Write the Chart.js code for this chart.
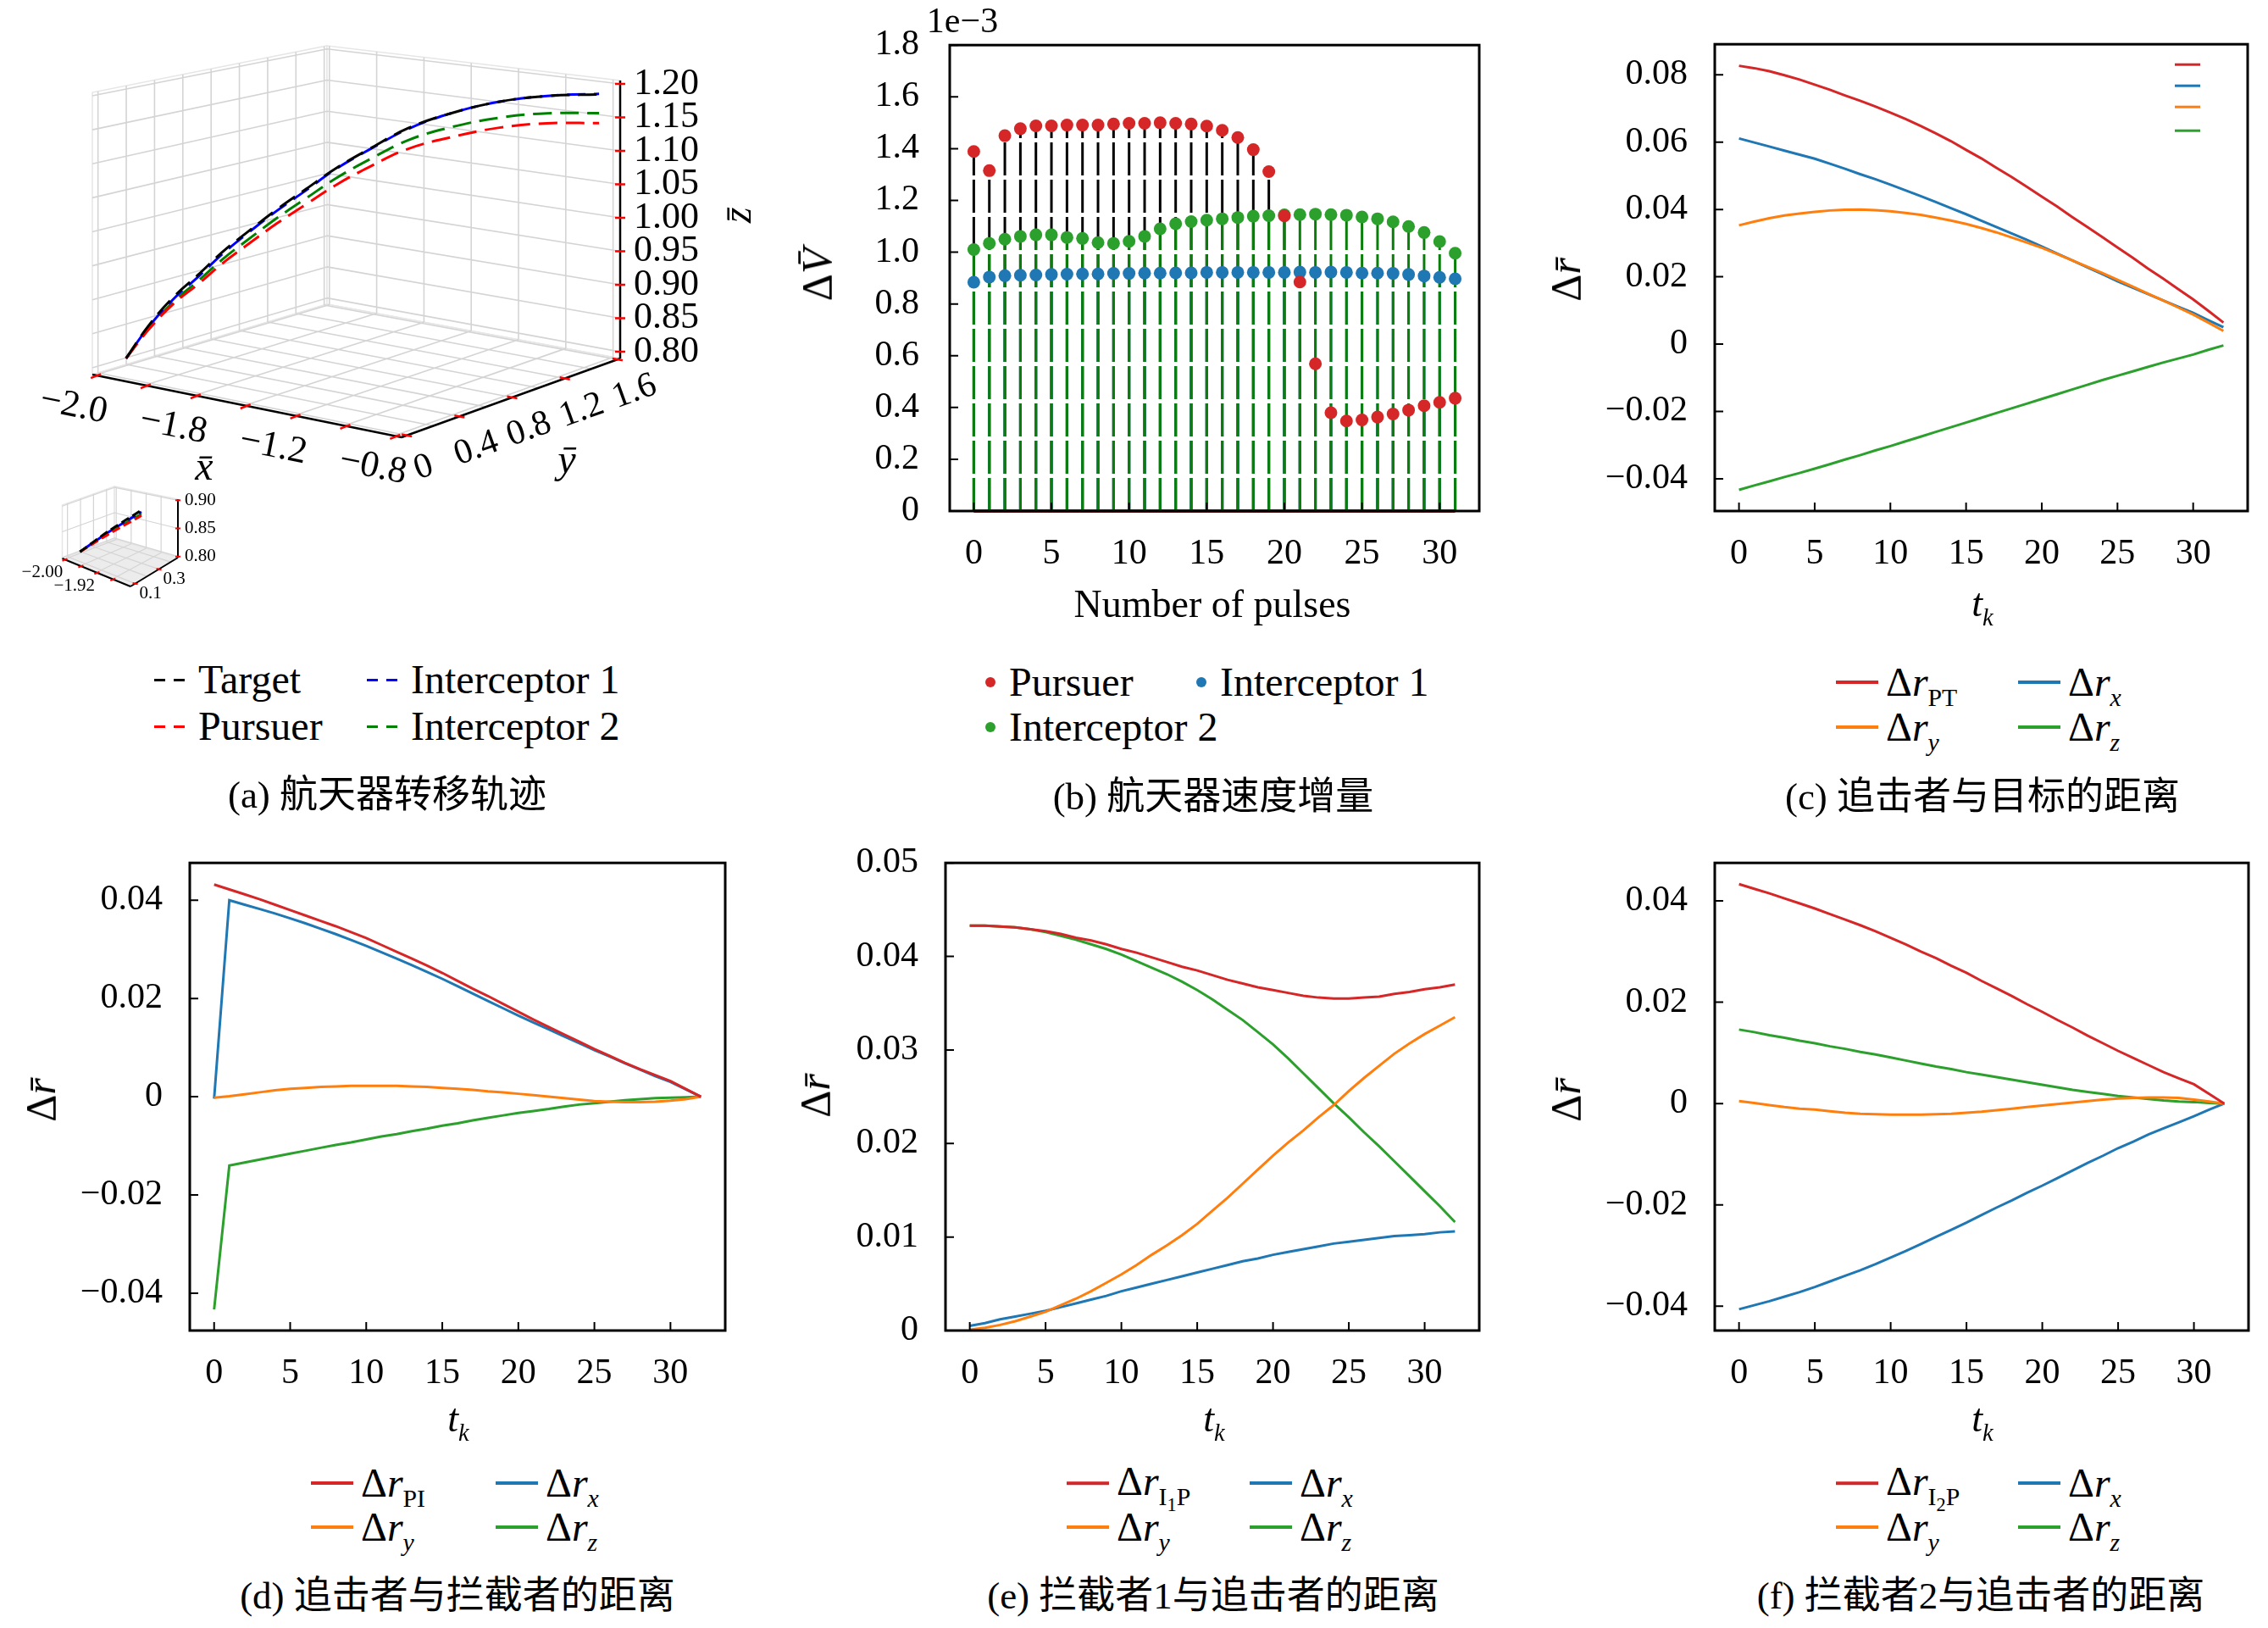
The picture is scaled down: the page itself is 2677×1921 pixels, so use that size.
<!DOCTYPE html>
<html>
<head>
<meta charset="utf-8">
<title>Pursuit-evasion simulation results</title>
<script src="https://cdn.jsdelivr.net/npm/chart.js@4.4.1/dist/chart.umd.min.js"></script>
<style>
  html, body { margin: 0; padding: 0; background: #fff; }
  body { width: 2677px; height: 1921px; position: relative; overflow: hidden;
         font-family: "Liberation Serif", "Noto Sans CJK SC", serif; color: #000; }
  canvas { position: absolute; }
  .t { position: absolute; white-space: nowrap; line-height: 1; transform: translate(-50%, -50%); }
  .lg { position: absolute; white-space: nowrap; line-height: 1; font-size: 48px;
        transform: translateY(-50%); display: flex; align-items: center; }
  sub { font-size: 0.62em; vertical-align: -0.4em; line-height: 0; }
  sub sub { font-size: 0.75em; vertical-align: -0.3em; }
</style>
</head>
<body>
<script>
// ---------- data ----------
// (a) trajectories, sampled along the transfer arc
const trajX = [-2.000, -1.947, -1.887, -1.828, -1.770, -1.711, -1.639, -1.569, -1.498, -1.415, -1.320, -1.214, -1.096, -0.978, -0.848];
const trajY = [0.181, 0.246, 0.320, 0.392, 0.465, 0.537, 0.625, 0.712, 0.800, 0.902, 1.018, 1.149, 1.295, 1.440, 1.600];
const zTarget = [0.801, 0.849, 0.892, 0.925, 0.959, 0.988, 1.022, 1.052, 1.082, 1.111, 1.141, 1.162, 1.177, 1.183, 1.182];
const zPursuer = [0.801, 0.843, 0.882, 0.911, 0.942, 0.969, 1.001, 1.029, 1.057, 1.084, 1.110, 1.126, 1.138, 1.142, 1.139];
const zInt1 = [0.801, 0.847, 0.889, 0.922, 0.956, 0.986, 1.020, 1.050, 1.081, 1.110, 1.140, 1.162, 1.177, 1.183, 1.183];
const zInt2 = [0.801, 0.845, 0.885, 0.916, 0.948, 0.976, 1.009, 1.038, 1.067, 1.095, 1.123, 1.141, 1.153, 1.157, 1.154];
const insetPoints = 3;

const xGrid3d = [-2.0, -1.8, -1.6, -1.4, -1.2, -1.0, -0.8];
const xTick3d = [-2.0, -1.6, -1.2, -0.8];
const xTickLabels3d = ['\u22122.0', '\u22121.8', '\u22121.2', '\u22120.8'];
const yGrid3d = [0, 0.2, 0.4, 0.6, 0.8, 1.0, 1.2, 1.4, 1.6];
const yTick3d = [0, 0.4, 0.8, 1.2, 1.6];
const yTickLabels3d = ['0', '0.4', '0.8', '1.2', '1.6'];
const zTick3d = [0.80, 0.85, 0.90, 0.95, 1.00, 1.05, 1.10, 1.15, 1.20];

const xGridInset = [-2.00, -1.96, -1.92, -1.88];
const xTickInset = [-2.00, -1.92];
const yGridInset = [0.1, 0.2, 0.3, 0.4];
const yTickInset = [0.1, 0.3];
const zTickInset = [0.80, 0.85, 0.90];

// (b) velocity increments, units of 1e-3
const pulses = [0,1,2,3,4,5,6,7,8,9,10,11,12,13,14,15,16,17,18,19,20,21,22,23,24,25,26,27,28,29,30,31];
const dvPursuer = [1.389, 1.315, 1.450, 1.477, 1.488, 1.488, 1.491, 1.491, 1.491, 1.495, 1.498, 1.498, 1.500, 1.498, 1.495, 1.487,
                   1.471, 1.443, 1.396, 1.311, 1.140, 0.885, 0.569, 0.380, 0.348, 0.352, 0.363, 0.375, 0.390, 0.407, 0.420, 0.436];
const dvInt1 = [0.884, 0.904, 0.909, 0.911, 0.912, 0.914, 0.915, 0.916, 0.916, 0.918, 0.918, 0.919, 0.919, 0.920, 0.920, 0.922,
                0.922, 0.922, 0.922, 0.922, 0.922, 0.923, 0.922, 0.923, 0.922, 0.919, 0.919, 0.918, 0.914, 0.908, 0.903, 0.897];
const dvInt2 = [1.010, 1.034, 1.050, 1.061, 1.067, 1.067, 1.057, 1.053, 1.037, 1.034, 1.042, 1.061, 1.090, 1.110, 1.118, 1.124,
                1.129, 1.134, 1.139, 1.141, 1.144, 1.145, 1.147, 1.145, 1.143, 1.136, 1.129, 1.117, 1.099, 1.076, 1.041, 0.996];
const dvTicks = [0, 0.2, 0.4, 0.6, 0.8, 1.0, 1.2, 1.4, 1.6, 1.8];

// (c)-(f) relative distances over t_k = 0..32
const tk = [0,1,2,3,4,5,6,7,8,9,10,11,12,13,14,15,16,17,18,19,20,21,22,23,24,25,26,27,28,29,30,31,32];
const tkTicks = [0, 5, 10, 15, 20, 25, 30];

const cNorm = [0.0827, 0.0820, 0.0811, 0.0799, 0.0786, 0.0771, 0.0756, 0.0739, 0.0723, 0.0706, 0.0688, 0.0669, 0.0648, 0.0626, 0.0603, 0.0577, 0.0552,
               0.0524, 0.0497, 0.0468, 0.0438, 0.0409, 0.0378, 0.0348, 0.0318, 0.0287, 0.0257, 0.0225, 0.0195, 0.0164, 0.0133, 0.0099, 0.0064];
const cX = [0.0611, 0.0599, 0.0587, 0.0575, 0.0563, 0.0551, 0.0536, 0.0521, 0.0505, 0.0490, 0.0474, 0.0457, 0.0440, 0.0422, 0.0404, 0.0386, 0.0367,
            0.0348, 0.0329, 0.0310, 0.0290, 0.0269, 0.0249, 0.0228, 0.0208, 0.0187, 0.0168, 0.0149, 0.0130, 0.0111, 0.0093, 0.0071, 0.0050];
const cY = [0.0353, 0.0364, 0.0374, 0.0382, 0.0388, 0.0393, 0.0397, 0.0399, 0.0400, 0.0398, 0.0395, 0.0390, 0.0384, 0.0376, 0.0367, 0.0357, 0.0345,
            0.0332, 0.0317, 0.0302, 0.0286, 0.0268, 0.0249, 0.0230, 0.0211, 0.0191, 0.0171, 0.0150, 0.0130, 0.0109, 0.0088, 0.0064, 0.0039];
const cZ = [-0.0433, -0.0420, -0.0408, -0.0395, -0.0383, -0.0370, -0.0357, -0.0343, -0.0330, -0.0316, -0.0303, -0.0289, -0.0275, -0.0261, -0.0247, -0.0233, -0.0219,
            -0.0205, -0.0191, -0.0177, -0.0163, -0.0149, -0.0135, -0.0121, -0.0107, -0.0094, -0.0081, -0.0068, -0.0055, -0.0043, -0.0031, -0.0017, -0.0004];
const cTicks = [-0.04, -0.02, 0, 0.02, 0.04, 0.06, 0.08];

const dNorm = [0.0432, 0.0422, 0.0412, 0.0402, 0.0391, 0.0380, 0.0369, 0.0358, 0.0347, 0.0335, 0.0323, 0.0309, 0.0295, 0.0281, 0.0267, 0.0252, 0.0236,
               0.0220, 0.0205, 0.0189, 0.0173, 0.0157, 0.0142, 0.0127, 0.0112, 0.0097, 0.0083, 0.0069, 0.0056, 0.0044, 0.0032, 0.0016, 0.0000];
const dX = [-0.0004, 0.0400, 0.0391, 0.0382, 0.0373, 0.0363, 0.0353, 0.0342, 0.0331, 0.0319, 0.0307, 0.0294, 0.0281, 0.0268, 0.0254, 0.0240, 0.0225,
            0.0210, 0.0195, 0.0180, 0.0165, 0.0151, 0.0137, 0.0123, 0.0109, 0.0095, 0.0082, 0.0068, 0.0055, 0.0042, 0.0030, 0.0015, 0.0000];
const dY = [-0.0002, 0.0001, 0.0005, 0.0009, 0.0013, 0.0016, 0.0018, 0.0020, 0.0021, 0.0022, 0.0022, 0.0022, 0.0022, 0.0021, 0.0020, 0.0018, 0.0016,
            0.0014, 0.0011, 0.0009, 0.0006, 0.0003, 0.0000, -0.0003, -0.0006, -0.0009, -0.0010, -0.0011, -0.0011, -0.0010, -0.0008, -0.0005, 0.0000];
const dZ = [-0.0433, -0.0140, -0.0134, -0.0128, -0.0122, -0.0116, -0.0110, -0.0104, -0.0098, -0.0093, -0.0087, -0.0081, -0.0076, -0.0070, -0.0065, -0.0059, -0.0054,
            -0.0048, -0.0043, -0.0038, -0.0033, -0.0029, -0.0025, -0.0020, -0.0016, -0.0013, -0.0010, -0.0007, -0.0005, -0.0003, -0.0002, -0.0001, 0.0000];
const dTicks = [-0.04, -0.02, 0, 0.02, 0.04];

const eNorm = [0.0433, 0.0433, 0.0432, 0.0431, 0.0429, 0.0427, 0.0424, 0.0420, 0.0417, 0.0413, 0.0408, 0.0404, 0.0399, 0.0394, 0.0389, 0.0385, 0.0380,
               0.0375, 0.0371, 0.0367, 0.0364, 0.0361, 0.0358, 0.0356, 0.0355, 0.0355, 0.0356, 0.0357, 0.0360, 0.0362, 0.0365, 0.0367, 0.0370];
const eX = [0.0005, 0.0008, 0.0012, 0.0015, 0.0018, 0.0021, 0.0025, 0.0029, 0.0033, 0.0037, 0.0042, 0.0046, 0.0050, 0.0054, 0.0058, 0.0062, 0.0066,
            0.0070, 0.0074, 0.0077, 0.0081, 0.0084, 0.0087, 0.0090, 0.0093, 0.0095, 0.0097, 0.0099, 0.0101, 0.0102, 0.0103, 0.0105, 0.0106];
const eY = [0.0001, 0.0003, 0.0006, 0.0010, 0.0015, 0.0020, 0.0027, 0.0034, 0.0042, 0.0051, 0.0060, 0.0070, 0.0081, 0.0091, 0.0102, 0.0114, 0.0128,
            0.0142, 0.0157, 0.0172, 0.0187, 0.0201, 0.0214, 0.0228, 0.0241, 0.0256, 0.0270, 0.0283, 0.0296, 0.0307, 0.0317, 0.0326, 0.0335];
const eZ = [0.0433, 0.0433, 0.0432, 0.0431, 0.0429, 0.0426, 0.0422, 0.0418, 0.0413, 0.0408, 0.0402, 0.0395, 0.0388, 0.0381, 0.0373, 0.0364, 0.0354,
            0.0343, 0.0332, 0.0319, 0.0306, 0.0291, 0.0275, 0.0259, 0.0243, 0.0228, 0.0212, 0.0197, 0.0181, 0.0165, 0.0149, 0.0133, 0.0116];
const eTicks = [0, 0.01, 0.02, 0.03, 0.04, 0.05];

const fNorm = [0.0433, 0.0424, 0.0415, 0.0405, 0.0395, 0.0385, 0.0374, 0.0363, 0.0352, 0.0340, 0.0327, 0.0314, 0.0300, 0.0287, 0.0272, 0.0258, 0.0242,
               0.0227, 0.0212, 0.0196, 0.0181, 0.0165, 0.0150, 0.0134, 0.0119, 0.0104, 0.0090, 0.0076, 0.0062, 0.0050, 0.0038, 0.0019, 0.0000];
const fX = [-0.0406, -0.0398, -0.0390, -0.0381, -0.0372, -0.0362, -0.0351, -0.0340, -0.0329, -0.0317, -0.0304, -0.0291, -0.0277, -0.0263, -0.0249, -0.0235, -0.0220,
            -0.0205, -0.0191, -0.0176, -0.0162, -0.0147, -0.0132, -0.0117, -0.0103, -0.0088, -0.0075, -0.0061, -0.0049, -0.0037, -0.0025, -0.0012, 0.0000];
const fY = [0.0005, 0.0001, -0.0003, -0.0007, -0.0010, -0.0012, -0.0015, -0.0018, -0.0020, -0.0021, -0.0022, -0.0022, -0.0022, -0.0021, -0.0020, -0.0018, -0.0016,
            -0.0013, -0.0010, -0.0007, -0.0004, -0.0001, 0.0002, 0.0005, 0.0008, 0.0010, 0.0011, 0.0012, 0.0012, 0.0011, 0.0008, 0.0004, 0.0000];
const fZ = [0.0146, 0.0141, 0.0135, 0.0130, 0.0124, 0.0119, 0.0113, 0.0108, 0.0102, 0.0097, 0.0091, 0.0085, 0.0079, 0.0073, 0.0068, 0.0062, 0.0057,
            0.0052, 0.0047, 0.0042, 0.0037, 0.0032, 0.0027, 0.0023, 0.0019, 0.0015, 0.0012, 0.0009, 0.0006, 0.0004, 0.0003, 0.0001, 0.0000];
const fTicks = [-0.04, -0.02, 0, 0.02, 0.04];

// ---------- style ----------
const FONT = '"Liberation Serif", "Noto Sans CJK SC", serif';
const RED = '#d62728', BLUE = '#1f77b4', ORANGE = '#ff7f0e', GREEN = '#2ca02c';
Chart.defaults.font.family = FONT;
Chart.defaults.color = '#000';

function place(id, left, top, w, h) {
  const c = document.createElement('canvas');
  c.id = id; c.width = w; c.height = h;
  c.style.left = left + 'px'; c.style.top = top + 'px';
  c.style.width = w + 'px'; c.style.height = h + 'px';
  document.body.appendChild(c);
  return c;
}
// create a chart, then re-create it so that its chartArea lands exactly on `area` (page pixels)
function pinned(id, area, guess, makeConfig) {
  const geom = g => [area.l - g.lo, area.t - g.to, g.lo + area.r - area.l + g.ro, g.to + area.b - area.t + g.bo];
  let cv = place(id, ...geom(guess));
  let ch = new Chart(cv, makeConfig());
  const a = ch.chartArea;
  const got = { lo: a.left, to: a.top, ro: cv.width - a.right, bo: cv.height - a.bottom };
  const err = Math.abs(got.lo - guess.lo) + Math.abs(got.to - guess.to) + Math.abs(got.ro - guess.ro) + Math.abs(got.bo - guess.bo);
  if (err < 1) return ch;
  ch.destroy(); cv.remove();
  cv = place(id, ...geom(got));
  return new Chart(cv, makeConfig());
}
function text(html, x, y, size, rot) {
  const d = document.createElement('div');
  d.className = 't';
  d.style.left = x + 'px'; d.style.top = y + 'px'; d.style.fontSize = size + 'px';
  if (rot) d.style.transform = 'translate(-50%,-50%) rotate(' + rot + 'deg)';
  d.innerHTML = html;
  document.body.appendChild(d);
}
const swatch = {
  dash: c => `<span style="display:inline-block;width:36px;height:3px;margin-right:16px;background:repeating-linear-gradient(90deg,${c} 0 13px,transparent 13px 23px)"></span>`,
  dot: c => `<span style="display:inline-block;width:12px;height:12px;border-radius:50%;margin-right:16px;background:${c}"></span>`,
  line: c => `<span style="display:inline-block;width:50px;height:4px;margin-right:9px;background:${c}"></span>`
};
function legend(x, y, kind, color, html) {
  const d = document.createElement('div');
  d.className = 'lg';
  d.style.left = x + 'px'; d.style.top = y + 'px';
  d.innerHTML = swatch[kind](color) + '<span>' + html + '</span>';
  document.body.appendChild(d);
}

const fmtInt = v => String(v);
const fmtDec = n => v => (v === 0 ? '0' : v.toFixed(n).replace('-', '\u2212'));

// frame + inward ticks, matplotlib style
const framePlugin = {
  id: 'frame',
  afterDatasetsDraw(chart) {
    const { ctx, chartArea: a, scales: { x, y } } = chart;
    ctx.save();
    ctx.strokeStyle = '#000';
    ctx.lineWidth = 2;
    ctx.beginPath();
    x.ticks.forEach(t => { const p = x.getPixelForValue(t.value); ctx.moveTo(p, a.bottom); ctx.lineTo(p, a.bottom - 10); });
    y.ticks.forEach(t => { const p = y.getPixelForValue(t.value); ctx.moveTo(a.left, p); ctx.lineTo(a.left + 10, p); });
    ctx.stroke();
    ctx.lineWidth = 3;
    ctx.strokeRect(a.left, a.top, a.right - a.left, a.bottom - a.top);
    ctx.restore();
  }
};

function axis(min, max, tickVals, fmt, fit, pad) {
  return {
    type: 'linear', min, max,
    grid: { display: false, drawTicks: false },
    border: { display: false },
    afterBuildTicks: s => { s.ticks = tickVals.map(v => ({ value: v })); },
    afterFit: fit,
    ticks: { color: '#000', font: { family: FONT, size: 42 }, padding: pad, autoSkip: false, maxRotation: 0, callback: fmt }
  };
}
const baseOptions = (padTop, padR, xAxis, yAxis) => ({
  responsive: false, maintainAspectRatio: false, animation: false, devicePixelRatio: 1,
  layout: { padding: { top: padTop, right: padR, left: 0, bottom: 0 } },
  plugins: { legend: { display: false }, tooltip: { enabled: false } },
  scales: { x: xAxis, y: yAxis }
});

function lineChart(id, area, series, yMin, yMax, yTicks, extra) {
  const yW = 200, padTop = 40, padR = 20, xH = 110;
  return pinned(id, area, { lo: yW, to: padTop, ro: padR, bo: xH }, () => ({
    type: 'line',
    data: {
      datasets: series.map(s => ({
        label: s.name, data: tk.map((t, i) => ({ x: t, y: s.values[i] })),
        borderColor: s.color, borderWidth: 3, pointRadius: 0, tension: 0, fill: false, order: s.order
      }))
    },
    options: baseOptions(padTop, padR,
      axis(-1.6, 33.6, tkTicks, fmtInt, s => { s.height = xH; }, 26),
      axis(yMin, yMax, yTicks, fmtDec(2), s => { s.width = yW; }, 32)),
    plugins: [framePlugin].concat(extra || [])
  }));
}

// ---------- (a) 3D trajectories ----------
const vehicles = [
  { name: 'Target', z: zTarget, color: '#000000', dashOffset: 0 },
  { name: 'Pursuer', z: zPursuer, color: '#ff0000', dashOffset: 0 },
  { name: 'Interceptor 1', z: zInt1, color: '#0000ff', dashOffset: 14 },
  { name: 'Interceptor 2', z: zInt2, color: '#008000', dashOffset: 0 }
];
// floor corners (x0y0, x1y0, x1y1, x0y1) and vertical edge heights, in page pixels
const mainBox = { A: [109, 442], B: [474, 516], C: [732, 423], D: [386, 359], up: [333, 345, 328, 305],
                  xr: [-2.01, -0.77], yr: [-0.04, 1.62], zr: [0.79, 1.205] };
const insetBox = { A: [73.5, 659], B: [154, 692], C: [210, 658], D: [135, 636], up: [63, 66, 69, 62],
                   xr: [-2.005, -1.835], yr: [0.06, 0.46], zr: [0.798, 0.902] };

function project(b, x, y, z) {
  const u = (x - b.xr[0]) / (b.xr[1] - b.xr[0]);
  const v = (y - b.yr[0]) / (b.yr[1] - b.yr[0]);
  const w = (z - b.zr[0]) / (b.zr[1] - b.zr[0]);
  const k = [(1 - u) * (1 - v), u * (1 - v), u * v, (1 - u) * v];
  const c = [b.A, b.B, b.C, b.D];
  const h = k[0] * b.up[0] + k[1] * b.up[1] + k[2] * b.up[2] + k[3] * b.up[3];
  return {
    x: k.reduce((s, kk, i) => s + kk * c[i][0], 0),
    y: k.reduce((s, kk, i) => s + kk * c[i][1], 0) - w * h
  };
}

function drawBox(chart, b, o) {
  const ctx = chart.ctx, sx = chart.scales.x, sy = chart.scales.y;
  const P = (x, y, z) => { const p = project(b, x, y, z); return [sx.getPixelForValue(p.x), sy.getPixelForValue(p.y)]; };
  const [x0, x1] = b.xr, [y0, y1] = b.yr, [z0, z1] = b.zr;
  const poly = (pts, fill) => {
    ctx.beginPath(); pts.forEach((p, i) => i ? ctx.lineTo(p[0], p[1]) : ctx.moveTo(p[0], p[1])); ctx.closePath();
    ctx.fillStyle = fill; ctx.fill(); ctx.strokeStyle = '#e6e6e6'; ctx.lineWidth = 1.5; ctx.stroke();
  };
  const seg = (p, q) => { ctx.moveTo(p[0], p[1]); ctx.lineTo(q[0], q[1]); };
  ctx.save();
  poly([P(x0, y0, z0), P(x0, y1, z0), P(x0, y1, z1), P(x0, y0, z1)], o.wall);
  poly([P(x0, y1, z0), P(x1, y1, z0), P(x1, y1, z1), P(x0, y1, z1)], o.wall);
  poly([P(x0, y0, z0), P(x1, y0, z0), P(x1, y1, z0), P(x0, y1, z0)], o.floor);
  ctx.beginPath();
  o.yGrid.forEach(y => { seg(P(x0, y, z0), P(x0, y, z1)); seg(P(x0, y, z0), P(x1, y, z0)); });
  o.xGrid.forEach(x => { seg(P(x, y1, z0), P(x, y1, z1)); seg(P(x, y0, z0), P(x, y1, z0)); });
  o.zGrid.forEach(z => { seg(P(x0, y0, z), P(x0, y1, z)); seg(P(x0, y1, z), P(x1, y1, z)); });
  ctx.strokeStyle = '#d4d4d4'; ctx.lineWidth = o.gridW; ctx.stroke();
  // axis spines
  ctx.beginPath();
  seg(P(x0, y0, z0), P(x1, y0, z0)); seg(P(x1, y0, z0), P(x1, y1, z0)); seg(P(x1, y1, z0), P(x1, y1, z1));
  ctx.strokeStyle = '#000'; ctx.lineWidth = o.spineW; ctx.stroke();
  // red tick marks
  const L = o.tickL;
  ctx.beginPath();
  o.xGrid.forEach(x => { const p = P(x, y0, z0); seg([p[0] - L * 0.4, p[1] + L * 0.3], [p[0] + L * 0.6, p[1] - L * 0.1]); });
  o.yTicks.forEach(y => { const p = P(x1, y, z0); seg([p[0] - L * 0.5, p[1] - L * 0.1], [p[0] + L * 0.5, p[1] + L * 0.1]); });
  o.zTicks.forEach(z => { const p = P(x1, y1, z); seg([p[0] - L * 0.5, p[1]], [p[0] + L * 0.5, p[1]]); });
  ctx.strokeStyle = '#ff0000'; ctx.lineWidth = o.tickW; ctx.stroke();
  // tick labels
  ctx.fillStyle = '#000';
  ctx.textAlign = 'center'; ctx.textBaseline = 'middle';
  const ax = P(x1, y0, z0), a0 = P(x0, y0, z0), ay = P(x1, y1, z0);
  const angX = o.rotate ? Math.atan2(ax[1] - a0[1], ax[0] - a0[0]) : 0;
  const angY = o.rotate ? Math.atan2(ay[1] - ax[1], ay[0] - ax[0]) : 0;
  ctx.font = o.fontX + 'px ' + FONT;
  o.xTicks.forEach((x, i) => {
    const p = P(x, y0, z0);
    ctx.save(); ctx.translate(p[0] + o.xOff[0], p[1] + o.xOff[1]); ctx.rotate(angX); ctx.fillText(o.xLabels[i], 0, 0); ctx.restore();
  });
  ctx.font = o.fontY + 'px ' + FONT;
  o.yTicks.forEach((y, i) => {
    const p = P(x1, y, z0);
    ctx.save(); ctx.translate(p[0] + o.yOff[0], p[1] + o.yOff[1]); ctx.rotate(angY); ctx.fillText(o.yLabels[i], 0, 0); ctx.restore();
  });
  ctx.font = o.fontZ + 'px ' + FONT;
  ctx.textAlign = 'left';
  o.zTicks.forEach(z => { const p = P(x1, y1, z); ctx.fillText(z.toFixed(2), p[0] + o.zOff, p[1]); });
  ctx.restore();
}

const boxPlugin = {
  id: 'box3d',
  beforeDatasetsDraw(chart) {
    drawBox(chart, mainBox, {
      wall: '#ffffff', floor: '#ffffff', gridW: 1.6, spineW: 2.5, tickL: 12, tickW: 2.5,
      fontX: 44, fontY: 42, fontZ: 44, rotate: true,
      xGrid: xGrid3d, yGrid: yGrid3d, zGrid: zTick3d, xTicks: xTick3d, xLabels: xTickLabels3d,
      yTicks: yTick3d, yLabels: yTickLabels3d, zTicks: zTick3d,
      xOff: [-25, 37], yOff: [20, 38], zOff: 16
    });
    drawBox(chart, insetBox, {
      wall: '#ffffff', floor: '#ececec', gridW: 1.2, spineW: 2, tickL: 6, tickW: 2,
      fontX: 21, fontY: 21, fontZ: 21, rotate: false,
      xGrid: xGridInset, yGrid: yGridInset, zGrid: zTickInset, xTicks: xTickInset, xLabels: ['\u22122.00', '\u22121.92'],
      yTicks: yTickInset, yLabels: ['0.1', '0.3'], zTicks: zTickInset,
      xOff: [-26, 16], yOff: [18, 12], zOff: 8
    });
  },
  afterDraw(chart) {
    const ctx = chart.ctx, sx = chart.scales.x, sy = chart.scales.y;
    ctx.save();
    ctx.fillStyle = '#000';
    ctx.font = 'italic 48px ' + FONT;
    ctx.textAlign = 'center'; ctx.textBaseline = 'middle';
    ctx.fillText('x\u0304', sx.getPixelForValue(241), sy.getPixelForValue(553));
    ctx.fillText('y\u0304', sx.getPixelForValue(669), sy.getPixelForValue(545));
    ctx.translate(sx.getPixelForValue(873), sy.getPixelForValue(254));
    ctx.rotate(-Math.PI / 2);
    ctx.fillText('z\u0304', 0, 0);
    ctx.restore();
  }
};

const trajDatasets = [];
vehicles.forEach(v => trajDatasets.push({
  label: v.name,
  data: trajX.map((x, i) => project(mainBox, x, trajY[i], v.z[i])),
  borderColor: v.color, borderWidth: 3, borderDash: [22, 10], borderDashOffset: v.dashOffset,
  pointRadius: 0, tension: 0.4, fill: false, showLine: true
}));
vehicles.forEach(v => trajDatasets.push({
  label: v.name + ' (inset)',
  data: trajX.slice(0, insetPoints).map((x, i) => project(insetBox, x, trajY[i], v.z[i])),
  borderColor: v.color, borderWidth: 3, borderDash: [10, 5], borderDashOffset: v.dashOffset / 2,
  pointRadius: 0, tension: 0.3, fill: false, showLine: true
}));

new Chart(place('chartA', 0, 0, 900, 760), {
  type: 'scatter',
  data: { datasets: trajDatasets },
  options: {
    responsive: false, maintainAspectRatio: false, animation: false, devicePixelRatio: 1,
    layout: { padding: 0 },
    plugins: { legend: { display: false }, tooltip: { enabled: false } },
    scales: {
      x: { type: 'linear', min: 0, max: 900, display: false },
      y: { type: 'linear', min: 0, max: 760, reverse: true, display: false }
    }
  },
  plugins: [boxPlugin]
});

// ---------- (b) velocity increments (stem plot) ----------
const stemSeries = [
  { name: 'Pursuer', values: dvPursuer, marker: RED, stem: '#000000' },
  { name: 'Interceptor 1', values: dvInt1, marker: BLUE, stem: BLUE },
  { name: 'Interceptor 2', values: dvInt2, marker: GREEN, stem: '#0a7d0a' }
];
const stemPlugin = {
  id: 'stems',
  beforeDatasetsDraw(chart) {
    const { ctx, scales: { x, y } } = chart;
    const y0 = y.getPixelForValue(0);
    ctx.save();
    ctx.lineWidth = 3;
    ctx.setLineDash([39, 5]);
    stemSeries.forEach(s => {
      ctx.strokeStyle = s.stem;
      ctx.beginPath();
      s.values.forEach((v, i) => { const px = x.getPixelForValue(pulses[i]); ctx.moveTo(px, y0); ctx.lineTo(px, y.getPixelForValue(v)); });
      ctx.stroke();
    });
    ctx.setLineDash([]);
    ctx.strokeStyle = '#8b1a1a';
    ctx.lineWidth = 4;
    ctx.beginPath();
    ctx.moveTo(x.getPixelForValue(pulses[0]), y0);
    ctx.lineTo(x.getPixelForValue(pulses[pulses.length - 1]), y0);
    ctx.stroke();
    ctx.restore();
  }
};
(function () {
  const yW = 150, padTop = 53, padR = 20, xH = 90;
  pinned('chartB', { l: 1121, t: 53, r: 1746, b: 603 }, { lo: yW, to: padTop, ro: padR, bo: xH }, () => ({
    type: 'scatter',
    data: {
      datasets: stemSeries.map(s => ({
        label: s.name, data: pulses.map((p, i) => ({ x: p, y: s.values[i] })),
        backgroundColor: s.marker, borderWidth: 0, pointRadius: 7.5
      }))
    },
    options: baseOptions(padTop, padR,
      axis(-1.55, 32.55, tkTicks, fmtInt, s => { s.height = xH; }, 26),
      axis(0, 1.8, dvTicks, fmtDec(1), s => { s.width = yW; }, 36)),
    plugins: [stemPlugin, framePlugin]
  }));
})();

// ---------- (c)-(f) distances ----------
const cSeries = [
  { name: '\u0394r_PT', values: cNorm, color: RED, order: 0 },
  { name: '\u0394r_x', values: cX, color: BLUE, order: 3 },
  { name: '\u0394r_y', values: cY, color: ORANGE, order: 1 },
  { name: '\u0394r_z', values: cZ, color: GREEN, order: 2 }
];
const miniLegend = {
  id: 'miniLegend',
  afterDatasetsDraw(chart) {
    const { ctx, chartArea: a } = chart;
    const rows = [24, 49, 74, 102];
    ctx.save();
    ctx.lineWidth = 3;
    cSeries.forEach((s, i) => {
      ctx.strokeStyle = s.color;
      ctx.beginPath();
      ctx.moveTo(a.right - 86, a.top + rows[i]);
      ctx.lineTo(a.right - 56, a.top + rows[i]);
      ctx.stroke();
    });
    ctx.restore();
  }
};
lineChart('chartC', { l: 2024, t: 52, r: 2653, b: 603 }, cSeries, -0.0496, 0.0891, cTicks, [miniLegend]);

const dSeries = [
  { name: '\u0394r_PI', values: dNorm, color: RED, order: 0 },
  { name: '\u0394r_x', values: dX, color: BLUE, order: 3 },
  { name: '\u0394r_y', values: dY, color: ORANGE, order: 1 },
  { name: '\u0394r_z', values: dZ, color: GREEN, order: 2 }
];
lineChart('chartD', { l: 224, t: 1018, r: 856, b: 1570 }, dSeries, -0.0476, 0.0476, dTicks);

const eSeries = [
  { name: '\u0394r_I1P', values: eNorm, color: RED, order: 0 },
  { name: '\u0394r_x', values: eX, color: BLUE, order: 3 },
  { name: '\u0394r_y', values: eY, color: ORANGE, order: 1 },
  { name: '\u0394r_z', values: eZ, color: GREEN, order: 2 }
];
lineChart('chartE', { l: 1116, t: 1018, r: 1746, b: 1570 }, eSeries, 0, 0.05, eTicks);

const fSeries = [
  { name: '\u0394r_I2P', values: fNorm, color: RED, order: 0 },
  { name: '\u0394r_x', values: fX, color: BLUE, order: 3 },
  { name: '\u0394r_y', values: fY, color: ORANGE, order: 1 },
  { name: '\u0394r_z', values: fZ, color: GREEN, order: 2 }
];
lineChart('chartF', { l: 2024, t: 1018, r: 2654, b: 1570 }, fSeries, -0.0448, 0.0475, fTicks);

// ---------- text: axis titles, legends, captions ----------
const dr = '\u0394<i>r\u0304</i>';
const tkHtml = '<i>t</i><sub><i>k</i></sub>';
text('1e\u22123', 1136, 24, 42);
text('\u0394<i>V\u0304</i>', 964, 324, 50, -90);
text('Number of pulses', 1431, 713, 46);
text(dr, 1848, 330, 50, -90);
text(tkHtml, 2340, 712, 46);
text(dr, 48, 1298, 50, -90);
text(tkHtml, 541, 1674, 46);
text(dr, 962, 1293, 50, -90);
text(tkHtml, 1433, 1674, 46);
text(dr, 1848, 1298, 50, -90);
text(tkHtml, 2340, 1674, 46);

// (a) legend
legend(182, 802, 'dash', vehicles[0].color, vehicles[0].name);
legend(182, 857, 'dash', vehicles[1].color, vehicles[1].name);
legend(433, 802, 'dash', vehicles[2].color, vehicles[2].name);
legend(433, 857, 'dash', vehicles[3].color, vehicles[3].name);
// (b) legend
legend(1163, 805, 'dot', stemSeries[0].marker, stemSeries[0].name);
legend(1412, 805, 'dot', stemSeries[1].marker, stemSeries[1].name);
legend(1163, 858, 'dot', stemSeries[2].marker, stemSeries[2].name);

function distLegend(series, x1, x2, y1, y2, sub0) {
  const lab = s => '\u0394<i>r</i><sub>' + s + '</sub>';
  legend(x1, y1, 'line', series[0].color, lab(sub0));
  legend(x2, y1, 'line', series[1].color, lab('<i>x</i>'));
  legend(x1, y2, 'line', series[2].color, lab('<i>y</i>'));
  legend(x2, y2, 'line', series[3].color, lab('<i>z</i>'));
}
distLegend(cSeries, 2167, 2382, 805, 858, 'PT');
distLegend(dSeries, 367, 585, 1750, 1802, 'PI');
distLegend(eSeries, 1259, 1475, 1750, 1802, 'I<sub>1</sub>P');
distLegend(fSeries, 2167, 2382, 1750, 1802, 'I<sub>2</sub>P');

text('(a) 航天器转移轨迹', 457, 938, 45);
text('(b) 航天器速度增量', 1432, 940, 45);
text('(c) 追击者与目标的距离', 2340, 940, 45);
text('(d) 追击者与拦截者的距离', 540, 1883, 45);
text('(e) 拦截者1与追击者的距离', 1432, 1883, 45);
text('(f) 拦截者2与追击者的距离', 2338, 1883, 45);
</script>
</body>
</html>
